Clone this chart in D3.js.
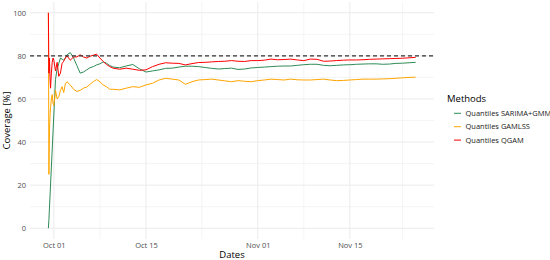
<!DOCTYPE html>
<html>
<head>
<meta charset="utf-8">
<script src="https://cdn.jsdelivr.net/npm/d3@7"></script>
<style>
  body { margin: 0; background: #fff; }
  svg text { font-family: "Open Sans", "DejaVu Sans", sans-serif; }
</style>
</head>
<body>
<div id="chart"></div>
<script>
/* Coverage of the quantile methods over time */

// time stamps, dense at the start then one per day
const times = [
  "2023-09-30 04:00", "2023-09-30 06:00", "2023-09-30 08:00", "2023-09-30 10:00",
  "2023-09-30 12:00", "2023-09-30 15:00", "2023-09-30 18:00", "2023-09-30 21:00",
  "2023-10-01 00:00", "2023-10-01 06:00", "2023-10-01 12:00", "2023-10-01 18:00",
  "2023-10-02 00:00", "2023-10-02 06:00", "2023-10-02 12:00", "2023-10-02 18:00",
  "2023-10-03 00:00", "2023-10-03 12:00", "2023-10-04 00:00", "2023-10-04 12:00",
  "2023-10-05 00:00", "2023-10-05 12:00", "2023-10-06 00:00", "2023-10-06 12:00",
  "2023-10-07 00:00", "2023-10-07 12:00", "2023-10-08 00:00", "2023-10-08 12:00",
  "2023-10-09 00:00", "2023-10-09 12:00", "2023-10-10 00:00",
  "2023-10-11 00:00", "2023-10-12 00:00", "2023-10-13 00:00", "2023-10-14 00:00",
  "2023-10-15 00:00", "2023-10-16 00:00", "2023-10-17 00:00", "2023-10-18 00:00",
  "2023-10-19 00:00", "2023-10-20 00:00", "2023-10-21 00:00", "2023-10-22 00:00",
  "2023-10-23 00:00", "2023-10-24 00:00", "2023-10-25 00:00", "2023-10-26 00:00",
  "2023-10-27 00:00", "2023-10-28 00:00", "2023-10-29 00:00", "2023-10-30 00:00",
  "2023-10-31 00:00", "2023-11-01 00:00", "2023-11-02 00:00", "2023-11-03 00:00",
  "2023-11-04 00:00", "2023-11-05 00:00", "2023-11-06 00:00", "2023-11-07 00:00",
  "2023-11-08 00:00", "2023-11-09 00:00", "2023-11-10 00:00", "2023-11-11 00:00",
  "2023-11-12 00:00", "2023-11-13 00:00", "2023-11-14 00:00", "2023-11-15 00:00",
  "2023-11-16 00:00", "2023-11-17 00:00", "2023-11-18 00:00", "2023-11-19 00:00",
  "2023-11-20 00:00", "2023-11-21 00:00", "2023-11-22 00:00", "2023-11-23 00:00",
  "2023-11-24 00:00", "2023-11-25 00:00"
];

const sarimaGmm = [
  0, 4, null, null, null, null, null, null,
  null, 69, 74, 76.5, 79, 78.5, 78, 79,
  80.5, 81.5, 79, 75.5, 72, 72.5, 73.5, 74.5,
  75, 75.8, 76.3, 77.2, 76.6, 75.5, 74.8,
  74.5, 75.3, 76, 74, 72.5, 73, 73.5, 74.2,
  74.3, 74.8, 75.2, 75.2, 75, 74.6, 74.2, 73.9,
  74.1, 74.3, 73.7, 73.9, 74.4, 74.6, 74.8, 75,
  75.2, 75.3, 75.3, 75.6, 75.9, 76.1, 76.1, 75.6,
  75.4, 75.6, 75.8, 75.9, 76.1, 76.2, 76.3, 76.3,
  76.1, 76.2, 76.5, 76.6, 76.8, 77
];

const gamlss = [
  100, 25, 45, 52, 56, 60, 62, 58,
  57, 64, 60, 61, 64, 65.7, 63, 67,
  68, 66.5, 64.5, 63.5, 64, 65, 65.5, 66.8,
  68, 69, 68, 66.5, 65.7, 64.5, 64.5,
  64.2, 65, 65.7, 65.4, 66.5, 67.3, 68.8, 69.6,
  69.2, 68.8, 66.8, 68, 68.8, 69, 69.2, 68.8,
  68.4, 68, 68.5, 68.2, 68, 68.5, 68.8, 69.2,
  69, 68.8, 69.2, 68.9, 68.8, 68.8, 69, 69.2,
  68.8, 68.5, 68.6, 68.8, 69, 69.2, 69.2, 69.2,
  69.3, 69.4, 69.6, 69.8, 70, 70.1
];

const qgam = [
  100, 72, 79, 70, 65, 72, 77, 79,
  78, 73, 77, 70.5, 72, 76.5, 77.5, 79,
  80, 78, 79.5, 79.5, 80.5, 79.5, 79, 79.8,
  80.3, 80.8, 79, 77.4, 76, 75, 74.3,
  73.8, 74.3, 73.8, 73.3, 73.5, 75, 76.1, 76.8,
  76.6, 76.5, 75.8, 76.4, 76.9, 77, 77.2, 77.4,
  77.5, 77.8, 77.5, 77.4, 77.8, 77.8, 78, 78.5,
  78.2, 78.3, 78.5, 78.1, 77.8, 78.5, 78.4, 77.5,
  77.6, 77.8, 78, 78.1, 78.1, 78.2, 78.4, 78.5,
  78.6, 78.7, 78.8, 78.9, 79.1, 79.3
];

const methodNames = ["Quantiles SARIMA+GMM", "Quantiles GAMLSS", "Quantiles QGAM"];
const methodColors = ["#2e8b57", "#ffa500", "#ff0000"];
const yTicks = [0, 20, 40, 60, 80, 100];
const yMinor = [10, 30, 50, 70, 90];
const xTicks = ["2023-10-01", "2023-10-15", "2023-11-01", "2023-11-15", "2023-12-01"];
const target = 80;

const width = 550, height = 260;
const margin = {top: 2, right: 116, bottom: 21, left: 30};

const parseTime = d3.timeParse("%Y-%m-%d %H:%M");
const parseDay = d3.timeParse("%Y-%m-%d");
const dates = times.map(parseTime);
const breaks = xTicks.map(parseDay);

const series = [sarimaGmm, gamlss, qgam].map((vals, i) => ({
  name: methodNames[i],
  color: methodColors[i],
  values: vals.map((v, j) => ({date: dates[j], v})).filter(d => d.v != null)
}));

// ggplot style 5% expansion
const xExt = d3.extent(dates);
const xPad = (xExt[1] - xExt[0]) * 0.05;
const x = d3.scaleTime()
  .domain([new Date(+xExt[0] - xPad), new Date(+xExt[1] + xPad)])
  .range([margin.left, width - margin.right]);

const y = d3.scaleLinear()
  .domain([-5, 105])
  .range([height - margin.bottom, margin.top]);

const svg = d3.select("#chart").append("svg")
  .attr("width", width)
  .attr("height", height);

const inRange = (d) => d >= x.domain()[0] && d <= x.domain()[1];
const xMinor = d3.pairs(breaks).map(([a, b]) => new Date((+a + +b) / 2)).filter(inRange);
const xMajor = breaks.filter(inRange);

const grid = svg.append("g").attr("stroke", "#ebebeb");
grid.selectAll("line.minor-y").data(yMinor).enter().append("line")
  .attr("class", "minor-y")
  .attr("x1", x.range()[0]).attr("x2", x.range()[1])
  .attr("y1", d => y(d)).attr("y2", d => y(d))
  .attr("stroke-width", 0.5);
grid.selectAll("line.minor-x").data(xMinor).enter().append("line")
  .attr("class", "minor-x")
  .attr("y1", y.range()[0]).attr("y2", y.range()[1])
  .attr("x1", d => x(d)).attr("x2", d => x(d))
  .attr("stroke-width", 0.5);
grid.selectAll("line.major-y").data(yTicks).enter().append("line")
  .attr("class", "major-y")
  .attr("x1", x.range()[0]).attr("x2", x.range()[1])
  .attr("y1", d => y(d)).attr("y2", d => y(d))
  .attr("stroke-width", 1);
grid.selectAll("line.major-x").data(xMajor).enter().append("line")
  .attr("class", "major-x")
  .attr("y1", y.range()[0]).attr("y2", y.range()[1])
  .attr("x1", d => x(d)).attr("x2", d => x(d))
  .attr("stroke-width", 1);

// axes without domain lines or ticks, just the labels
const yAxis = d3.axisLeft(y).tickValues(yTicks).tickSize(0).tickPadding(4);
svg.append("g")
  .attr("transform", `translate(${margin.left},0)`)
  .call(yAxis)
  .call(g => g.select(".domain").remove())
  .call(g => g.selectAll("text").attr("fill", "#4d4d4d").attr("font-size", 7.5)
    .attr("font-family", "'Open Sans', 'DejaVu Sans', sans-serif"));

const xAxis = d3.axisBottom(x).tickValues(xMajor).tickFormat(d3.timeFormat("%b %d")).tickSize(0).tickPadding(4);
svg.append("g")
  .attr("transform", `translate(0,${height - margin.bottom})`)
  .call(xAxis)
  .call(g => g.select(".domain").remove())
  .call(g => g.selectAll("text").attr("fill", "#4d4d4d").attr("font-size", 7.5)
    .attr("font-family", "'Open Sans', 'DejaVu Sans', sans-serif"));

svg.append("text")
  .attr("x", (x.range()[0] + x.range()[1]) / 2)
  .attr("y", height - 2)
  .attr("text-anchor", "middle")
  .attr("font-size", 9.5)
  .text("Dates");

svg.append("text")
  .attr("transform", `translate(10,${(y.range()[0] + y.range()[1]) / 2}) rotate(-90)`)
  .attr("text-anchor", "middle")
  .attr("font-size", 9.5)
  .text("Coverage [%]");

const line = d3.line()
  .x(d => x(d.date))
  .y(d => y(d.v));

svg.append("g")
  .selectAll("path")
  .data(series)
  .enter()
  .append("path")
    .attr("fill", "none")
    .attr("stroke", d => d.color)
    .attr("stroke-width", 1)
    .attr("stroke-linejoin", "round")
    .attr("d", d => line(d.values));

svg.append("line")
  .attr("x1", x.range()[0]).attr("x2", x.range()[1])
  .attr("y1", y(target)).attr("y2", y(target))
  .attr("stroke", "#333")
  .attr("stroke-width", 1.1)
  .attr("stroke-dasharray", "4,3");

// legend
const legend = svg.append("g").attr("transform", "translate(447,0)");
legend.append("text")
  .attr("x", 0).attr("y", 101.5)
  .attr("font-size", 9.5)
  .text("Methods");

const keys = legend.selectAll("g.key")
  .data(series)
  .enter()
  .append("g")
    .attr("class", "key")
    .attr("transform", (d, i) => `translate(0,${113.3 + i * 13.4})`);
keys.append("line")
  .attr("x1", 7).attr("x2", 14)
  .attr("stroke", d => d.color)
  .attr("stroke-width", 1);
keys.append("text")
  .attr("x", 18.5).attr("dy", "0.35em")
  .attr("font-size", 7.5)
  .attr("fill", "#1a1a1a")
  .text(d => d.name);
</script>
</body>
</html>
